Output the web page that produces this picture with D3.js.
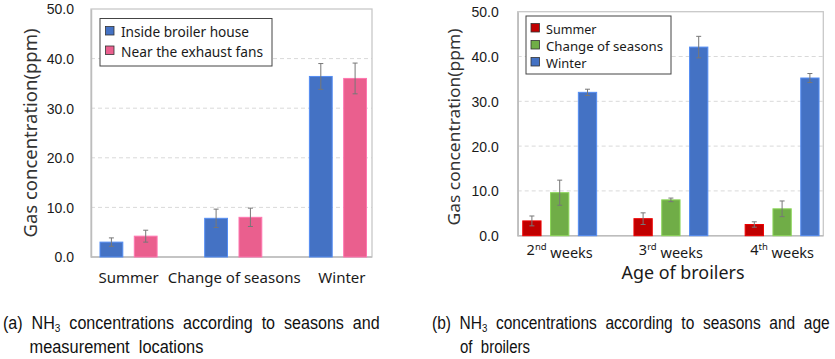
<!DOCTYPE html>
<html><head><meta charset="utf-8">
<script src="https://cdn.jsdelivr.net/npm/d3@7"></script>
<style>
html,body{margin:0;padding:0;background:#fff;}
svg{display:block;font-family:"Noto Sans","Open Sans",sans-serif;}
</style></head><body>
<svg id="c" width="835" height="359"></svg>
<script>
// ---- Panel (a) data ----
const seasonsA = ["Summer", "Change of seasons", "Winter"];
const locationsA = ["Inside broiler house", "Near the exhaust fans"];
const insideVals = [3.0, 7.8, 36.4];
const insideErr = [0.85, 1.85, 2.6];
const exhaustVals = [4.2, 8.0, 36.0];
const exhaustErr = [1.2, 1.85, 3.1];
const colorsA = ["#4472C4", "#EA5F8E"];

// ---- Panel (b) data ----
const weeksB = [["2", "nd"], ["3", "rd"], ["4", "th"]];
const seasonsB = ["Summer", "Change of seasons", "Winter"];
const summerVals = [3.3, 3.8, 2.5];
const summerErr = [1.1, 1.3, 0.6];
const changeVals = [9.6, 8.0, 6.0];
const changeErr = [2.8, 0.4, 1.75];
const winterVals = [32.0, 42.1, 35.2];
const winterErr = [0.7, 2.4, 1.0];
const colorsB = ["#C00000", "#70AD47", "#4472C4"];

const yTicks = [0, 10, 20, 30, 40, 50];

const svg = d3.select("#c");

function panel(cfg) {
  const g = svg.append("g");
  const y = d3.scaleLinear().domain([0, 50]).range([cfg.y0, cfg.y1]);
  const x0 = d3.scaleBand().domain(d3.range(cfg.cats.length)).range(cfg.xRange).padding(0);
  const n = cfg.series.length;
  const x1 = d3.scaleBand().domain(d3.range(n))
    .range([-cfg.innerStep * n / 2, cfg.innerStep * n / 2])
    .paddingInner(cfg.innerPad).paddingOuter(cfg.innerPad / 2);

  g.append("g").selectAll("line").data(yTicks.filter(t => t > 0 && t < 50)).join("line")
    .attr("x1", cfg.fx0).attr("x2", cfg.fx1)
    .attr("y1", d => y(d)).attr("y2", d => y(d))
    .attr("stroke", "#d9d9d9").attr("stroke-dasharray", "4,3").attr("stroke-width", 1);
  g.append("rect").attr("x", cfg.fx0).attr("y", y(50)).attr("width", cfg.fx1 - cfg.fx0)
    .attr("height", y(0) - y(50)).attr("fill", "none").attr("stroke", "#c8c8c8").attr("stroke-width", 1.3);
  const ya = d3.axisLeft(y).tickValues(yTicks).tickFormat(d3.format(".1f")).tickSize(0).tickPadding(cfg.tickPad);
  const yg = g.append("g").attr("transform", `translate(${cfg.fx0},0)`).call(ya);
  yg.select(".domain").attr("stroke", "#bdbdbd").attr("stroke-width", 1.5);
  yg.selectAll("text").attr("font-size", 14).attr("fill", "#1a1a1a").attr("dy", "0.35em");
  g.append("line").attr("x1", cfg.fx0).attr("x2", cfg.fx1).attr("y1", y(0)).attr("y2", y(0))
    .attr("stroke", "#bdbdbd").attr("stroke-width", 1.5);

  cfg.series.forEach((s, si) => {
    const sg = g.append("g");
    sg.selectAll("rect").data(s.vals).join("rect")
      .attr("x", (d, i) => x0(i) + x0.bandwidth() / 2 + x1(si))
      .attr("width", x1.bandwidth())
      .attr("y", d => y(d)).attr("height", d => y(0) - y(d))
      .attr("fill", s.color)
      .attr("stroke", d3.color(s.color).brighter(0.6)).attr("stroke-width", 1);
    const eg = sg.selectAll("g.err").data(s.vals.map((v, i) => [v, s.err[i], i])).join("g");
    eg.each(function ([v, e, i]) {
      const cx = x0(i) + x0.bandwidth() / 2 + x1(si) + x1.bandwidth() / 2;
      const gg = d3.select(this);
      gg.append("line").attr("x1", cx).attr("x2", cx).attr("y1", y(v + e)).attr("y2", y(v - e))
        .attr("stroke", "#777").attr("stroke-width", 1);
      [v + e, v - e].forEach(t => gg.append("line").attr("x1", cx - 2.5).attr("x2", cx + 2.5)
        .attr("y1", y(t)).attr("y2", y(t)).attr("stroke", "#777").attr("stroke-width", 1));
    });
  });

  const xl = g.append("g").selectAll("text").data(cfg.cats).join("text")
    .attr("x", (d, i) => x0(i) + x0.bandwidth() / 2 + (cfg.labelShift ? cfg.labelShift[i] : 0))
    .attr("y", cfg.xLabelY).attr("text-anchor", "middle").attr("font-size", cfg.xlSize).attr("fill", "#1a1a1a");
  xl.each(function (d) {
    const t = d3.select(this);
    if (Array.isArray(d)) {
      t.append("tspan").text(d[0]);
      t.append("tspan").attr("font-size", 9.5).attr("dy", "-0.5em").text(d[1]);
      t.append("tspan").attr("dy", "0.5em").text(" weeks");
    } else t.text(d);
  });

  g.append("text").attr("transform", `translate(${cfg.ytX},${cfg.ytY}) rotate(-90)`)
    .attr("text-anchor", "middle").attr("font-size", cfg.ytSize).attr("fill", "#333")
    .attr("textLength", cfg.ytLen).attr("lengthAdjust", "spacingAndGlyphs").text("Gas concentration(ppm)");

  const L = cfg.legend;
  g.append("rect").attr("x", L.x).attr("y", L.y).attr("width", L.w).attr("height", L.h)
    .attr("fill", "#fff").attr("stroke", "#444").attr("stroke-width", 1);
  cfg.series.forEach((s, si) => {
    g.append("rect").attr("x", L.sx).attr("y", L.rows[si] - 10.5).attr("width", 8.5).attr("height", 8.5)
      .attr("fill", s.color).attr("stroke", "#333").attr("stroke-width", 0.8);
    g.append("text").attr("x", L.tx).attr("y", L.rows[si]).attr("font-size", L.fs).attr("fill", "#1a1a1a")
      .attr("textLength", L.lens[si]).attr("lengthAdjust", "spacingAndGlyphs").text(s.name);
  });
  return {g, x0, y};
}

panel({
  cats: seasonsA, y0: 257, y1: 9, xRange: [76.2, 390.3], fx0: 91, fx1: 372,
  innerStep: 34.3, innerPad: 0.335, tickPad: 17,
  series: [
    {name: locationsA[0], vals: insideVals, err: insideErr, color: colorsA[0]},
    {name: locationsA[1], vals: exhaustVals, err: exhaustErr, color: colorsA[1]}
  ],
  labelShift: [0, 1, 4], xlSize: 15,
  xLabelY: 283, ytX: 37, ytY: 133, ytSize: 18, ytLen: 209,
  legend: {x: 100, y: 18.5, w: 172, h: 47.5, sx: 105.5, tx: 121, rows: [37, 56.5], lens: [128, 142], fs: 14}
});

panel({
  cats: weeksB, y0: 235.7, y1: 11.7, xRange: [504.1, 837.7], fx0: 517.7, fx1: 823.3,
  innerStep: 27.8, innerPad: 0.342, tickPad: 19, xlSize: 14.5,
  series: [
    {name: seasonsB[0], vals: summerVals, err: summerErr, color: colorsB[0]},
    {name: seasonsB[1], vals: changeVals, err: changeErr, color: colorsB[1]},
    {name: seasonsB[2], vals: winterVals, err: winterErr, color: colorsB[2]}
  ],
  xLabelY: 255, ytX: 460, ytY: 127, ytSize: 17, ytLen: 197,
  legend: {x: 526, y: 16, w: 145, h: 58, sx: 531, tx: 546, rows: [34, 51, 68], lens: [50.5, 117, 40.5], fs: 13}
});
svg.append("text").attr("x", 683).attr("y", 279).attr("text-anchor", "middle")
  .attr("font-size", 18).attr("fill", "#1a1a1a")
  .attr("textLength", 123).attr("lengthAdjust", "spacingAndGlyphs").text("Age of broilers");

// captions: natural text, then horizontally condensed to the measured target width
const capFont = '"Liberation Sans Narrow","Liberation Sans",Arial,sans-serif';
function caption(x, y, parts, len) {
  const g = svg.append("g");
  const t = g.append("text").attr("x", 0).attr("y", 0).attr("font-family", capFont)
    .attr("font-size", 18.5).attr("fill", "#111").style("white-space", "pre");
  parts.forEach(p => {
    if (p.sub) t.append("tspan").attr("font-size", 11.5).attr("dy", 3).text(p.t);
    else t.append("tspan").attr("dy", p.after ? -3 : 0).text(p.t);
  });
  const w = t.node().getComputedTextLength();
  g.attr("transform", `translate(${x},${y}) scale(${len / w},1)`);
}
caption(3, 329, [{t: "(a)  NH"}, {t: "3", sub: true}, {t: "  concentrations  according  to  seasons  and", after: true}], 377);
caption(29.5, 353, [{t: "measurement  locations"}], 174);
caption(432, 329, [{t: "(b)  NH"}, {t: "3", sub: true}, {t: "  concentrations  according  to  seasons  and  age", after: true}], 398);
caption(460, 353, [{t: "of  broilers"}], 70);
</script></body></html>
